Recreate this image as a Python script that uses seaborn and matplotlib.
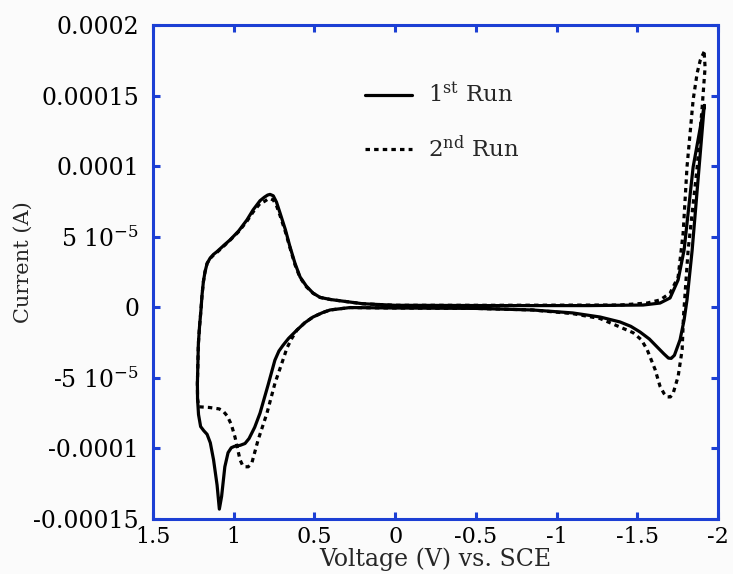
import numpy as np
import pandas as pd
import matplotlib
matplotlib.use("Agg")
import matplotlib.pyplot as plt
import seaborn as sns

# ---- data (current in units of 1e-5 A) ----
run1_v = [-1.915, -1.846, -1.790, -1.753, -1.703, -1.641, -1.536, -1.2, -0.6, 0.0, 0.2, 0.30, 0.40,
          0.465, 0.509, 0.55, 0.589, 0.62, 0.651, 0.68, 0.713, 0.735, 0.755, 0.775, 0.79, 0.81,
          0.837, 0.88, 0.918, 0.97, 1.023, 1.06, 1.103, 1.125, 1.147, 1.165, 1.178, 1.188, 1.196,
          1.203, 1.212, 1.219, 1.225, 1.224, 1.218, 1.205, 1.185, 1.165, 1.145, 1.125, 1.103, 1.089,
          1.075, 1.055, 1.035, 1.015, 0.995, 0.96, 0.93, 0.905, 0.87, 0.837, 0.787, 0.745, 0.72,
          0.695, 0.66, 0.608, 0.56, 0.509, 0.45, 0.403, 0.28, 0.0, -0.5, -0.85, -1.1, -1.27, -1.393,
          -1.46, -1.517, -1.575, -1.622, -1.665, -1.693, -1.71, -1.73, -1.765, -1.79, -1.808, -1.840,
          -1.883, -1.915]
run1_i = [14.3, 9.94, 4.06, 1.94, 0.66, 0.30, 0.16, 0.12, 0.12, 0.14, 0.25, 0.40, 0.55,
          0.70, 1.01, 1.5, 2.15, 3.1, 4.27, 5.5, 6.68, 7.45, 7.9, 8.0, 7.95, 7.8,
          7.55, 6.9, 6.19, 5.4, 4.77, 4.4, 3.95, 3.75, 3.47, 3.1, 2.5, 1.8, 0.9,
          -0.2, -1.4, -2.6, -5.39, -6.5, -7.6, -8.45, -8.75, -9.0, -9.6, -10.8, -12.6, -14.3,
          -13.4, -11.3, -10.3, -9.95, -9.85, -9.78, -9.65, -9.3, -8.5, -7.5, -5.5, -3.75, -3.1,
          -2.7, -2.2, -1.61, -1.1, -0.69, -0.38, -0.19, -0.02, -0.05, -0.08, -0.19, -0.40, -0.69, -1.04,
          -1.35, -1.75, -2.25, -2.8, -3.3, -3.6, -3.62, -3.4, -2.3, -0.9, 0.52, 4.06,
          9.94, 14.3]

run2_v = [-1.914, -1.890, -1.871, -1.846, -1.808, -1.784, -1.753, -1.703, -1.641, -1.561, -1.393,
          -0.6, 0.0, 0.2, 0.30, 0.40, 0.465, 0.509, 0.55, 0.589, 0.62, 0.651, 0.68, 0.713, 0.735,
          0.755, 0.775, 0.79, 0.81, 0.837, 0.88, 0.918, 0.97, 1.023, 1.06, 1.103, 1.125, 1.147,
          1.165, 1.178, 1.188, 1.196, 1.203, 1.212, 1.219, 1.225, 1.224, 1.215, 1.15, 1.09, 1.066,
          1.04, 1.015, 0.992, 0.961, 0.945, 0.93, 0.91, 0.887, 0.849, 0.794, 0.744, 0.715, 0.695,
          0.67, 0.64, 0.608, 0.56, 0.509, 0.45, 0.403, 0.28, 0.0, -0.5, -0.85, -1.1, -1.27, -1.393,
          -1.474, -1.525, -1.561, -1.61, -1.641, -1.665, -1.684, -1.705, -1.722, -1.753, -1.778,
          -1.786, -1.815, -1.871, -1.902, -1.92, -1.914]
run2_i = [18.1, 17.5, 16.6, 14.7, 9.94, 5.25, 2.15, 1.0, 0.52, 0.30, 0.16,
          0.14, 0.14, 0.25, 0.40, 0.55, 0.70, 1.0, 1.45, 2.1, 3.0, 4.2, 5.35, 6.5, 7.2,
          7.6, 7.7, 7.65, 7.5, 7.35, 6.75, 6.1, 5.35, 4.75, 4.35, 3.9, 3.7, 3.45,
          3.1, 2.5, 1.8, 0.9, -0.2, -1.4, -2.6, -5.39, -6.5, -7.05, -7.1, -7.2, -7.35,
          -7.7, -8.3, -9.2, -10.8, -11.2, -11.3, -11.3, -11.0, -9.4, -7.5, -5.36, -4.4, -3.73,
          -2.88, -2.2, -1.61, -1.1, -0.69, -0.38, -0.19, -0.02, -0.05, -0.08, -0.19, -0.45, -0.8, -1.4,
          -1.8, -2.3, -3.0, -4.4, -5.6, -6.1, -6.35, -6.35, -6.1, -4.9, -3.0,
          -0.67, 4.06, 9.94, 14.2, 17.0, 18.1]

series_labels = [r"1$^{\mathrm{st}}$ Run", r"2$^{\mathrm{nd}}$ Run"]

x_ticks = [1.5, 1, 0.5, 0, -0.5, -1, -1.5, -2]
x_ticklabels = ["1.5", "1", "0.5", "0", "-0.5", "-1", "-1.5", "-2"]
y_ticks = [2e-4, 1.5e-4, 1e-4, 5e-5, 0, -5e-5, -1e-4, -1.5e-4]
y_ticklabels = ["0.0002", "0.00015", "0.0001", r"5 10$^{-5}$", "0",
                r"-5 10$^{-5}$", "-0.0001", "-0.00015"]
x_label = "Voltage (V) vs. SCE"
y_label = "Current (A)"

# ---- style ----
sns.set_style("ticks")
plt.rcParams["font.family"] = ["DejaVu Serif"]
plt.rcParams["mathtext.fontset"] = "dejavuserif"
plt.rcParams["axes.unicode_minus"] = False

BLUE = "#1c3fd4"
BG = "#fbfbfb"

df1 = pd.DataFrame({"V": run1_v, "I": np.array(run1_i) * 1e-5})
df2 = pd.DataFrame({"V": run2_v, "I": np.array(run2_i) * 1e-5})

fig = plt.figure(figsize=(7.33, 5.74), dpi=100, facecolor=BG)
ax = fig.add_axes([153 / 733, (574 - 519) / 574, 565 / 733, 494 / 574])
ax.set_facecolor(BG)

sns.lineplot(data=df1, x="V", y="I", sort=False, estimator=None, ax=ax,
             color="black", lw=2.3, label=series_labels[0])
sns.lineplot(data=df2, x="V", y="I", sort=False, estimator=None, ax=ax,
             color="black", lw=2.3, linestyle=(0, (1.4, 1.3)), label=series_labels[1])

ax.set_xlim(1.5, -2)
ax.set_ylim(-1.5e-4, 2e-4)
ax.set_xticks(x_ticks)
ax.set_xticklabels(x_ticklabels)
ax.set_yticks(y_ticks)
ax.set_yticklabels(y_ticklabels)

for s in ax.spines.values():
    s.set_color(BLUE)
    s.set_linewidth(2.2)
    s.set_visible(True)

ax.tick_params(axis="both", which="major", direction="in", length=5, width=2.2,
               color=BLUE, labelcolor="black", top=True, right=True)
ax.tick_params(axis="x", pad=5, labelsize=16)
ax.tick_params(axis="y", pad=10, labelsize=17)

ax.set_xlabel(x_label, fontsize=17)
ax.set_ylabel(y_label, fontsize=15)
ax.xaxis.set_label_coords(0.5, -0.058)
ax.yaxis.set_label_coords(-0.212, 0.52)

leg = ax.legend(loc="center left", bbox_to_anchor=(0.375, 0.8026), frameon=False,
                fontsize=16.5, handlelength=2.05, handletextpad=0.7, labelspacing=1.2,
                borderpad=0, borderaxespad=0)

fig.savefig("out.png", dpi=100, facecolor=BG)
